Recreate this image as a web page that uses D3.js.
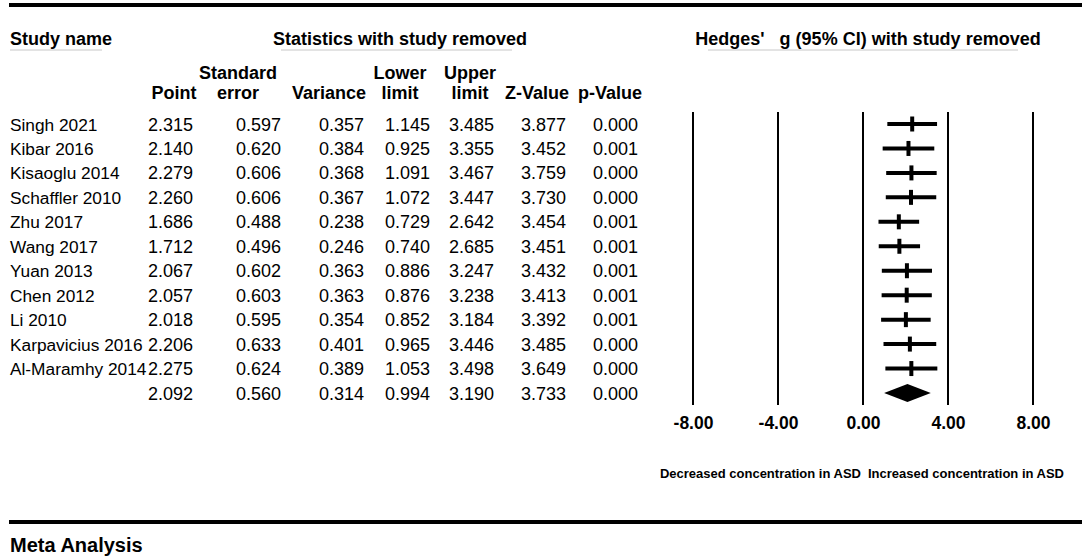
<!DOCTYPE html>
<html>
<head>
<meta charset="utf-8">
<script src="https://cdn.jsdelivr.net/npm/d3@7"></script>
<style>
    body { margin: 0; background: #fff; }
    svg { font-family: 'Liberation Sans', Arial, sans-serif; }
</style>
</head>
<body>
<div class="svg-target"></div>
<script>
const studies = ['Singh 2021', 'Kibar 2016', 'Kisaoglu 2014', 'Schaffler 2010', 'Zhu 2017', 'Wang 2017',
    'Yuan 2013', 'Chen 2012', 'Li 2010', 'Karpavicius 2016', 'Al-Maramhy 2014', ''];
const point = [2.315, 2.140, 2.279, 2.260, 1.686, 1.712, 2.067, 2.057, 2.018, 2.206, 2.275, 2.092];
const stdErr = [0.597, 0.620, 0.606, 0.606, 0.488, 0.496, 0.602, 0.603, 0.595, 0.633, 0.624, 0.560];
const variance = [0.357, 0.384, 0.368, 0.367, 0.238, 0.246, 0.363, 0.363, 0.354, 0.401, 0.389, 0.314];
const lower = [1.145, 0.925, 1.091, 1.072, 0.729, 0.740, 0.886, 0.876, 0.852, 0.965, 1.053, 0.994];
const upper = [3.485, 3.355, 3.467, 3.447, 2.642, 2.685, 3.247, 3.238, 3.184, 3.446, 3.498, 3.190];
const zValue = [3.877, 3.452, 3.759, 3.730, 3.454, 3.451, 3.432, 3.413, 3.392, 3.485, 3.649, 3.733];
const pValue = [0.000, 0.001, 0.000, 0.000, 0.001, 0.001, 0.001, 0.001, 0.001, 0.000, 0.000, 0.000];
const ticks = [-8, -4, 0, 4, 8];

const w = 1084;
const h = 559;
// plain hyphen for negatives, like the original
const fmt = d => d.toFixed(2);
const fmt3 = d3.format('.3f');

const svg = d3.select('.svg-target')
    .append('svg')
    .attr('width', w)
    .attr('height', h);

// scales
const xScale = d3.scaleLinear()
    .domain([-8, 8])
    .range([693, 1033]);

const yScale = d3.scalePoint()
    .domain(d3.range(studies.length))
    .range([124, 393]);

// rules top and bottom
[5, 522].forEach(y => {
    svg.append('line')
        .attr('x1', 9).attr('x2', 1082)
        .attr('y1', y).attr('y2', y)
        .attr('stroke', '#000')
        .attr('stroke-width', 4);
});

// group headers
const heads = [
    { t: 'Study name', x: 10, anchor: 'start', ux: [10, 102] },
    { t: 'Statistics with study removed', x: 400, anchor: 'middle', ux: [281, 512] },
    { t: 'Hedges\'   g (95% CI) with study removed', x: 868, anchor: 'middle', ux: [708, 1018] }
];
heads.forEach(d => {
    svg.append('text')
        .attr('x', d.x).attr('y', 45)
        .attr('text-anchor', d.anchor)
        .attr('font-size', 18)
        .attr('font-weight', 'bold')
        .style('white-space', 'pre')
        .text(d.t);
    svg.append('line')
        .attr('x1', d.ux[0]).attr('x2', d.ux[1])
        .attr('y1', 50).attr('y2', 50)
        .attr('stroke', '#c8c8c8')
        .attr('stroke-width', 1);
});

// column headers and data
const cols = [
    { l1: '', l2: 'Point', cx: 174, right: 193, vals: point },
    { l1: 'Standard', l2: 'error', cx: 238, right: 281, vals: stdErr },
    { l1: '', l2: 'Variance', cx: 329, right: 364, vals: variance },
    { l1: 'Lower', l2: 'limit', cx: 400, right: 430, vals: lower },
    { l1: 'Upper', l2: 'limit', cx: 470, right: 494, vals: upper },
    { l1: '', l2: 'Z-Value', cx: 537, right: 566, vals: zValue },
    { l1: '', l2: 'p-Value', cx: 610, right: 638, vals: pValue }
];

cols.forEach(c => {
    svg.append('text')
        .attr('x', c.cx).attr('y', 79)
        .attr('text-anchor', 'middle')
        .attr('font-size', 18)
        .attr('font-weight', 'bold')
        .text(c.l1);
    svg.append('text')
        .attr('x', c.cx).attr('y', 99)
        .attr('text-anchor', 'middle')
        .attr('font-size', 18)
        .attr('font-weight', 'bold')
        .text(c.l2);
    svg.append('g')
        .selectAll('text')
        .data(c.vals)
        .enter()
        .append('text')
            .attr('x', c.right)
            .attr('y', (d, i) => yScale(i) + 6.5)
            .attr('text-anchor', 'end')
            .attr('font-size', 18)
            .text(d => fmt3(d));
});

svg.append('g')
    .selectAll('text')
    .data(studies)
    .enter()
    .append('text')
        .attr('x', 10)
        .attr('y', (d, i) => yScale(i) + 6.5)
        .attr('font-size', 17.3)
        .text(d => d);

// grid lines
svg.append('g')
    .selectAll('line')
    .data(ticks)
    .enter()
    .append('line')
        .attr('x1', d => xScale(d)).attr('x2', d => xScale(d))
        .attr('y1', 112).attr('y2', 405)
        .attr('stroke', '#000')
        .attr('stroke-width', 2);

// x axis labels
const xAxis = d3.axisBottom(xScale)
    .tickValues(ticks)
    .tickFormat(fmt)
    .tickSize(0)
    .tickPadding(0);

const axisG = svg.append('g')
    .attr('transform', 'translate(0, 417)')
    .call(xAxis);
axisG.select('.domain').remove();
axisG.selectAll('text')
    .attr('font-family', "'Liberation Sans', Arial, sans-serif")
    .attr('font-size', 17.5)
    .attr('font-weight', 'bold')
    .attr('fill', '#000');

// confidence intervals (studies)
const rows = d3.range(studies.length - 1);
svg.append('g')
    .selectAll('line')
    .data(rows)
    .enter()
    .append('line')
        .attr('x1', i => xScale(lower[i]))
        .attr('x2', i => xScale(upper[i]))
        .attr('y1', i => yScale(i)).attr('y2', i => yScale(i))
        .attr('stroke', '#000')
        .attr('stroke-width', 4);

svg.append('g')
    .selectAll('line')
    .data(rows)
    .enter()
    .append('line')
        .attr('x1', i => xScale(point[i]))
        .attr('x2', i => xScale(point[i]))
        .attr('y1', i => yScale(i) - 7.5).attr('y2', i => yScale(i) + 7.5)
        .attr('stroke', '#000')
        .attr('stroke-width', 4);

// summary diamond
const s = studies.length - 1;
const sy = yScale(s);
svg.append('path')
    .attr('d', `M${xScale(lower[s])},${sy} L${xScale(point[s])},${sy - 9} L${xScale(upper[s])},${sy} L${xScale(point[s])},${sy + 9} Z`)
    .attr('fill', '#000');

// direction captions
svg.append('text')
    .attr('x', xScale(0) - 2).attr('y', 478)
    .attr('text-anchor', 'end')
    .attr('font-size', 13)
    .attr('font-weight', 'bold')
    .text('Decreased concentration in ASD');
svg.append('text')
    .attr('x', xScale(0) + 5).attr('y', 478)
    .attr('font-size', 13)
    .attr('font-weight', 'bold')
    .text('Increased concentration in ASD');

svg.append('text')
    .attr('x', 10).attr('y', 552)
    .attr('font-size', 20)
    .attr('font-weight', 'bold')
    .text('Meta Analysis');
</script>
</body>
</html>
